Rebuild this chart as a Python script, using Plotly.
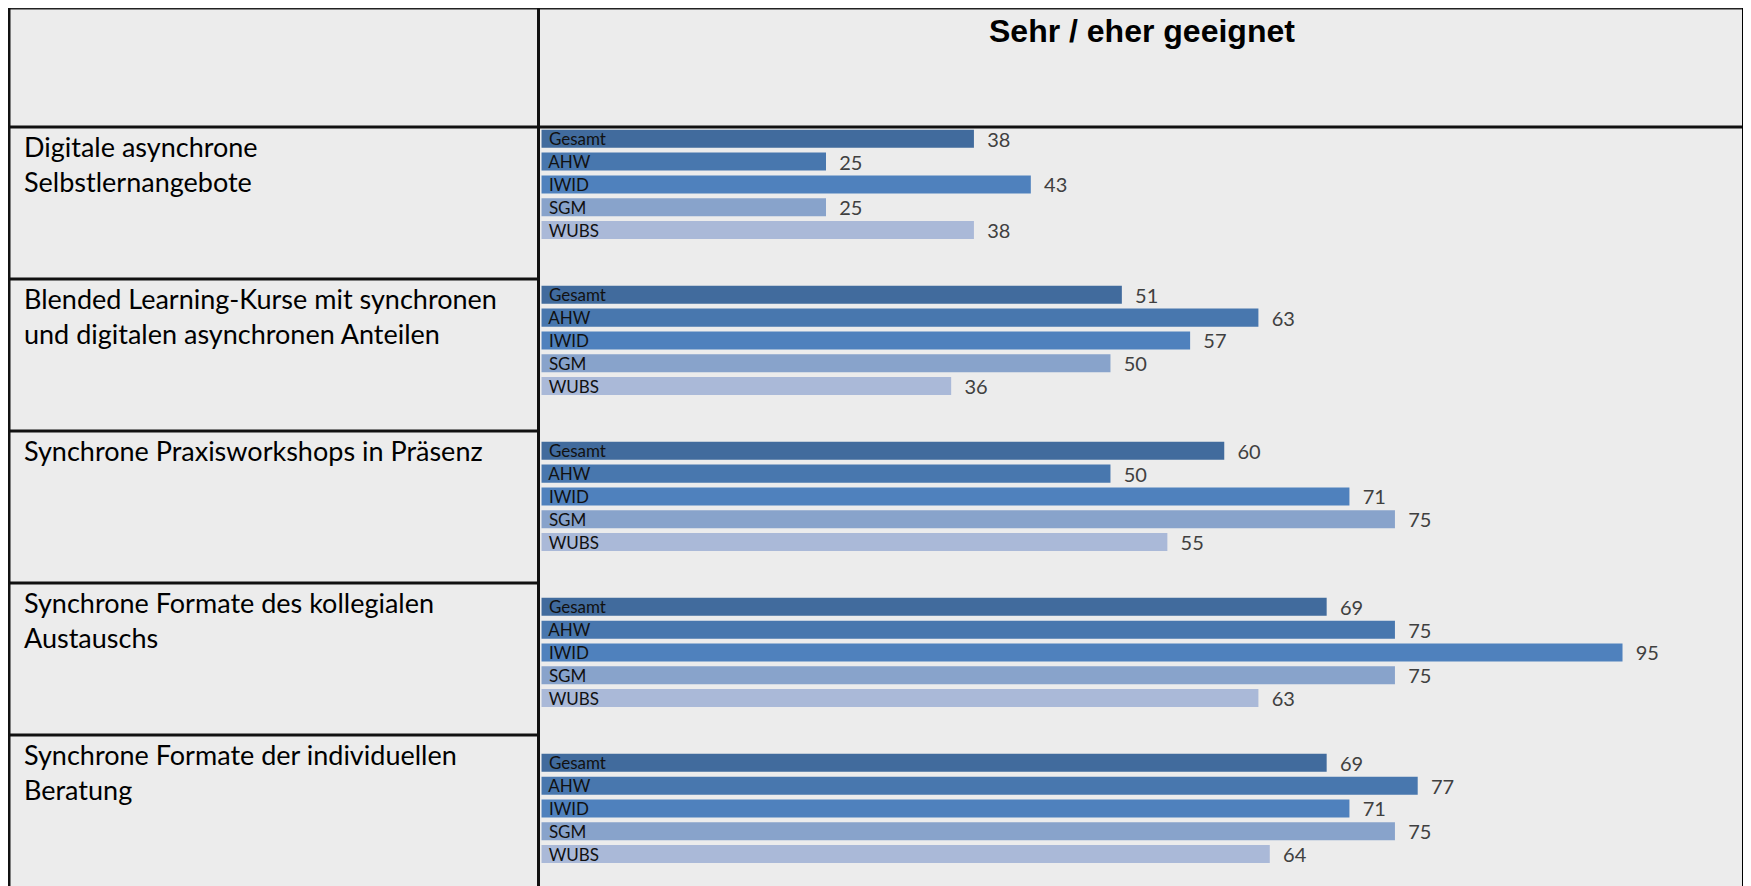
import plotly.graph_objects as go

categories = [
    "Digitale asynchrone<br>Selbstlernangebote",
    "Blended Learning-Kurse mit synchronen<br>und digitalen asynchronen Anteilen",
    "Synchrone Praxisworkshops in Präsenz",
    "Synchrone Formate des kollegialen<br>Austauschs",
    "Synchrone Formate der individuellen<br>Beratung",
]
groups = ["Gesamt", "AHW", "IWID", "SGM", "WUBS"]
values = {
    "Gesamt": [38, 51, 60, 69, 69],
    "AHW":    [25, 63, 50, 75, 77],
    "IWID":   [43, 57, 71, 95, 71],
    "SGM":    [25, 50, 75, 75, 75],
    "WUBS":   [38, 36, 55, 63, 64],
}
colors = {
    "Gesamt": "#416b9d",
    "AHW": "#4877ae",
    "IWID": "#4f81bd",
    "SGM": "#88a3cb",
    "WUBS": "#aab9d8",
}
title = "Sehr / eher geeignet"

# page geometry (pixels in the browser window); the page body has an 8px margin
OFF = 8
PAGE_W, PAGE_H = 1751, 886
W, H = PAGE_W - OFF, PAGE_H - OFF
L, R, T, B = 538, 1742, 127, 886  # plot area in page pixels
bg = "#ececec"

fig = go.Figure()
for g in groups:
    fig.add_trace(go.Bar(
        y=categories, x=values[g], orientation="h", name=g,
        offsetgroup=g,
        marker=dict(color=colors[g], line=dict(width=0)),
        text=["\u00a0" + g] * len(categories),
        textposition="inside", insidetextanchor="start",
        textfont=dict(family="Lato", size=17, color="#111111"),
        constraintext="none", cliponaxis=False, hoverinfo="skip",
    ))
    fig.add_trace(go.Bar(
        y=categories, x=values[g], orientation="h", name=g + " value",
        offsetgroup=g,
        marker=dict(color="rgba(0,0,0,0)", line=dict(width=0)),
        texttemplate="\u00a0\u00a0%{x}",
        textposition="outside",
        textfont=dict(family="Lato", size=20, color="#404040"),
        constraintext="none", cliponaxis=False, hoverinfo="skip",
        showlegend=False,
    ))

def px(x):
    return (x - L) / (R - L)

def py(y):
    return 1 - (y - T) / (B - T)

shapes = []
line_col = "#111111"
def hline(y, x0, x1, w=3, c=line_col):
    shapes.append(dict(type="line", xref="paper", yref="paper",
                       x0=px(x0), x1=px(x1), y0=py(y), y1=py(y),
                       line=dict(color=c, width=w), layer="above"))
def vline(x, y0, y1, w=3, c=line_col):
    shapes.append(dict(type="line", xref="paper", yref="paper",
                       x0=px(x), x1=px(x), y0=py(y0), y1=py(y1),
                       line=dict(color=c, width=w), layer="above"))

hline(8.5, 7, 1742, 2, "#222222")
hline(127, 7, 1742, 3)
row_lines = [279, 431, 583, 735]
for y in row_lines:
    hline(y, 7, 538, 3)
vline(9, 7, 886, 3)
vline(538.5, 7, 886, 3)
vline(1747, 7, 886, 10, "#000000")

annotations = []
row_tops = [127, 279, 431, 583, 735]
for cat, top in zip(categories, row_tops):
    annotations.append(dict(
        text=cat, xref="paper", yref="paper", x=px(22), y=py(top + 1),
        xanchor="left", yanchor="top", align="left", showarrow=False,
        font=dict(family="Lato", size=27, color="#000000"),
    ))
annotations.append(dict(
    text="<b>" + title + "</b>", xref="paper", yref="paper",
    x=px(1142), y=py(31), xanchor="center", yanchor="middle",
    showarrow=False,
    font=dict(family="Liberation Sans", size=32, color="#000000"),
))

fig.update_layout(
    width=W, height=H,
    margin=dict(l=L - OFF, r=PAGE_W - R, t=T - OFF, b=PAGE_H - B, pad=0),
    paper_bgcolor=bg, plot_bgcolor=bg,
    barmode="group", bargap=0.269, bargroupgap=0.21,
    showlegend=False,
    xaxis=dict(range=[-0.31, 105.5], visible=False, fixedrange=True),
    yaxis=dict(categoryorder="array", categoryarray=categories,
               range=[4.497, -0.368], visible=False, fixedrange=True),
    shapes=shapes, annotations=annotations,
)

fig.write_html("out.html", config={"displayModeBar": False})
